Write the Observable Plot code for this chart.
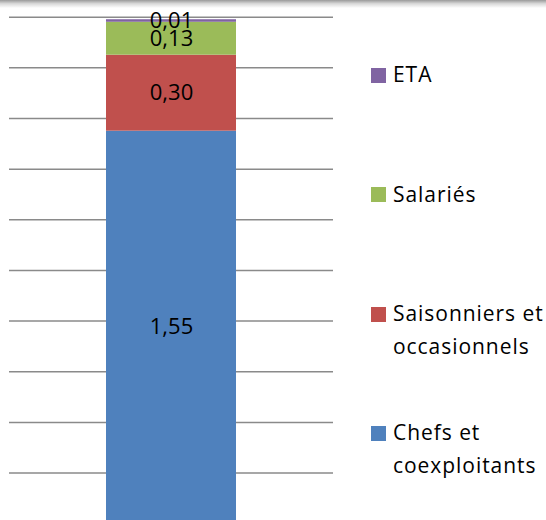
<!DOCTYPE html>
<html>
<head>
<meta charset="utf-8">
<script src="https://cdn.jsdelivr.net/npm/d3@7"></script>
<script src="https://cdn.jsdelivr.net/npm/@observablehq/plot@0.6"></script>
<style>
  html, body { margin: 0; padding: 0; overflow: hidden; background: #fff; width: 546px; height: 520px; }
  #wrap { position: relative; width: 546px; height: 520px; }
  #topband { position: absolute; left: 0; top: 0; width: 546px; height: 8px;
    background: linear-gradient(#9a9a9a, #d8d8d8 45%, #ffffff); }
  #chart { position: absolute; left: 0; top: 0; }
  #legend { position: absolute; left: 371px; top: 68px; font-family: "Open Sans", sans-serif;
    font-size: 21px; letter-spacing: 0.95px; color: #000; }
  .item { position: relative; height: 119.3px; }
  .sw { position: absolute; left: 0; top: 0; width: 15px; height: 15px; }
  .lab { position: absolute; left: 22px; top: -9.6px; line-height: 33px; white-space: nowrap; }
</style>
</head>
<body>
<div id="wrap">
  <div id="chart"></div>
  <div id="topband"></div>
  <div id="legend"></div>
</div>
<script>
// Data (bottom to top of the stack)
const categories = ["Chefs et coexploitants", "Saisonniers et occasionnels", "Salariés", "ETA"];
const legendLines = [["Chefs et", "coexploitants"], ["Saisonniers et", "occasionnels"], ["Salariés"], ["ETA"]];
const values = [1.55, 0.30, 0.13, 0.01];
const colors = ["#4F81BD", "#C0504D", "#9BBB59", "#8064A2"];
const gridTicks = [0, 0.2, 0.4, 0.6, 0.8, 1.0, 1.2, 1.4, 1.6, 1.8, 2.0];

const data = categories.map((c, i) => ({
  bar: "",
  series: c,
  value: values[i],
  label: values[i].toFixed(2).replace(".", ",")
}));

const chart = Plot.plot({
  width: 546,
  height: 540,
  marginTop: 16.7,
  marginBottom: 16.8,
  marginLeft: 9,
  marginRight: 213,
  style: { fontFamily: "Open Sans, sans-serif", background: "transparent" },
  x: { domain: [""], axis: null, paddingInner: 0.6, paddingOuter: 0.3 },
  y: { domain: [0, 2], axis: null },
  color: { domain: categories, range: colors },
  marks: [
    Plot.ruleY(gridTicks, { stroke: "#8a8a8a", strokeWidth: 1.5 }),
    Plot.barY(data, { x: "bar", y: "value", fill: "series" }),
    Plot.text(data, Plot.stackY({ x: "bar", y: "value", text: "label", fontSize: 22, fill: "#000" }))
  ]
});
document.getElementById("chart").appendChild(chart);

// Legend (top to bottom: reverse of stack order)
const legend = document.getElementById("legend");
for (let i = categories.length - 1; i >= 0; i--) {
  const item = document.createElement("div");
  item.className = "item";
  const sw = document.createElement("div");
  sw.className = "sw";
  sw.style.background = colors[i];
  const lab = document.createElement("div");
  lab.className = "lab";
  lab.innerHTML = legendLines[i].join("<br>");
  item.appendChild(sw);
  item.appendChild(lab);
  legend.appendChild(item);
}
</script>
</body>
</html>
